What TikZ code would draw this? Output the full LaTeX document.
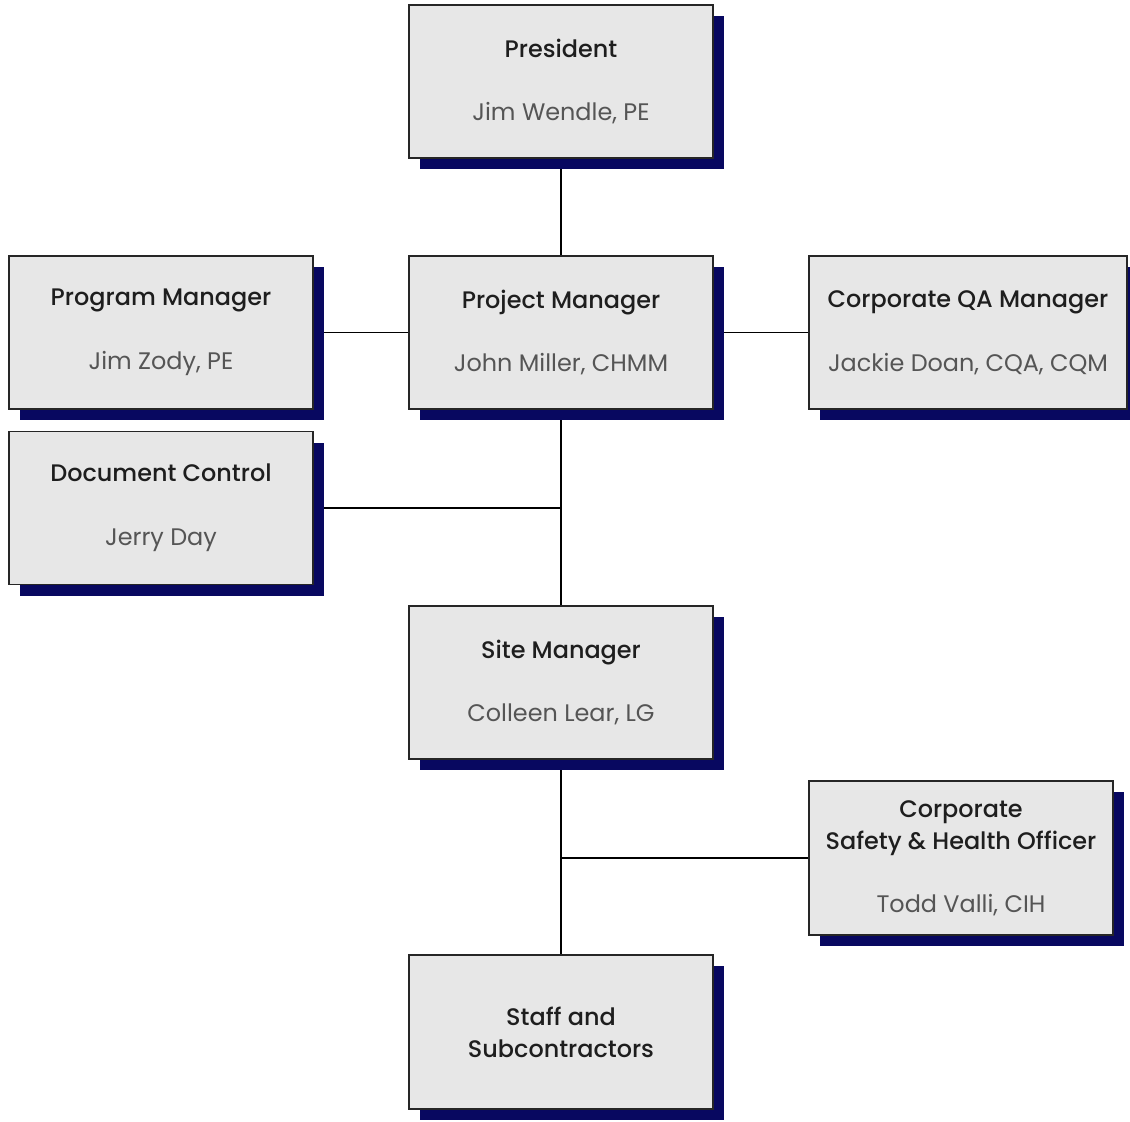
\documentclass[tikz,border=0pt]{standalone}
\usepackage{fontspec}
\setmainfont{Poppins}
\newfontfamily\titlefont{Poppins}[UprightFont=* Medium]
\usepackage{tikz}
\usetikzlibrary{shadows,backgrounds}
\definecolor{boxgray}{RGB}{231,231,231}
\definecolor{shadownavy}{RGB}{8,8,96}
\definecolor{namegray}{RGB}{85,85,85}
\definecolor{titledark}{RGB}{30,30,30}

\begin{document}
\begin{tikzpicture}[x=1bp, y=-1bp,
  orgbox/.style={draw=black!85, line width=1.5bp, fill=boxgray,
    minimum width=304bp, minimum height=153bp, inner sep=0pt, align=center,
    text=titledark, font=\titlefont\fontsize{24}{32}\selectfont,
    drop shadow={shadow xshift=11bp, shadow yshift=-11bp, fill=shadownavy, opacity=1}},
  link/.style={line width=1.8bp, black}]
  \useasboundingbox (0,0) rectangle (1130,1122);
  % boxes
  \node[orgbox] (pres) at (561,81.5) {President\\[32bp]{\fontsize{24}{26}\selectfont\color{namegray}\rmfamily Jim Wendle, PE}};
  \node[orgbox] (projman) at (561,332.5) {Project Manager\\[32bp]{\fontsize{24}{26}\selectfont\color{namegray}\rmfamily John Miller, CHMM}};
  \node[orgbox] (progman) at (161,332.5) {Program Manager\\[32bp]{\fontsize{24}{26}\selectfont\color{namegray}\rmfamily Jim Zody, PE}};
  \node[orgbox, minimum width=318bp] (qaman) at (968,332.5) {Corporate QA Manager\\[32bp]{\fontsize{24}{26}\selectfont\color{namegray}\rmfamily Jackie Doan, CQA, CQM}};
  \node[orgbox] (doccontrol) at (161,508) {Document Control\\[32bp]{\fontsize{24}{26}\selectfont\color{namegray}\rmfamily Jerry Day}};
  \node[orgbox] (siteman) at (561,682.5) {Site Manager\\[32bp]{\fontsize{24}{26}\selectfont\color{namegray}\rmfamily Colleen Lear, LG}};
  \node[orgbox, minimum height=154bp] (safety) at (961,858) {Corporate\\Safety \& Health Officer\\[31bp]{\fontsize{24}{26}\selectfont\color{namegray}\rmfamily Todd Valli, CIH}};
  \node[orgbox, minimum height=154bp] (staff) at (561,1032) {Staff and\\Subcontractors};
  % connectors
  \begin{scope}[on background layer]
    \draw[link] (pres.south) -- (projman.north);
    \draw[link] (progman.east) -- (projman.west);
    \draw[link] (projman.east) -- (qaman.west);
    \draw[link] (projman.south) -- (siteman.north);
    \draw[link] (doccontrol.east) -- (doccontrol.east -| projman.south);
    \draw[link] (siteman.south) -- (staff.north);
    \draw[link] (safety.west) -- (safety.west -| siteman.south);
  \end{scope}
\end{tikzpicture}
\end{document}
